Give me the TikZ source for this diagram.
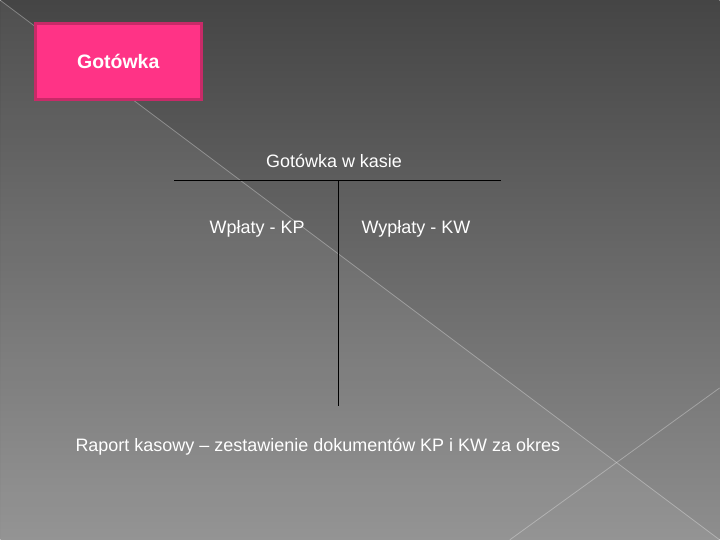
\documentclass[tikz,border=0pt]{standalone}
\usepackage{fontspec}
\setmainfont{Liberation Sans}
\definecolor{pinkbox}{HTML}{FF3386}
\definecolor{pinkedge}{HTML}{C82A68}
\definecolor{bgtop}{HTML}{454545}
\definecolor{bgbottom}{HTML}{8E8E8E}

\tikzstyle{label} = [text=white, inner sep=0pt, font=\fontsize{18}{21}\selectfont]
\tikzstyle{title} = [rectangle, minimum width=166pt, minimum height=76pt, fill=pinkbox, draw=pinkedge, line width=3pt, text=white, font=\fontsize{19.5}{23}\selectfont\bfseries]
\tikzstyle{tline} = [black, line width=1pt]
\tikzstyle{deco} = [white, opacity=0.3, line width=0.8pt]

\begin{document}
\begin{tikzpicture}[x=1pt, y=-1pt]
		% Background
		\shade[top color=bgtop, bottom color=bgbottom] (0,0) rectangle (720,540);
		\fill[white, opacity=0.06] (0,0) -- (720,540) -- (0,540) -- cycle;
		\draw[deco] (0,0) -- (720,540);
		\draw[deco] (720,388) -- (510,540);
		\useasboundingbox (0,0) rectangle (720,540);
		% Nodes
		\node (cash) [title] at (118,61.5) {Gotówka};
		\node (account) [label] at (334,160.5) {Gotówka w kasie};
		\node (debit) [label] at (257,229) {Wpłaty - KP};
		\node (credit) [label] at (416,229) {Wypłaty - KW};
		\node (report) [label, anchor=west] at (75,447) {Raport kasowy – zestawienie dokumentów KP i KW za okres};
		% T-account
		\coordinate (left) at (174,180);
		\coordinate (right) at (501,180);
		\coordinate (top) at (338,180);
		\coordinate (bottom) at (338,406);
		\draw [tline] (left) -- (right);
		\draw [tline] (top) -- (bottom);
\end{tikzpicture}
\end{document}
